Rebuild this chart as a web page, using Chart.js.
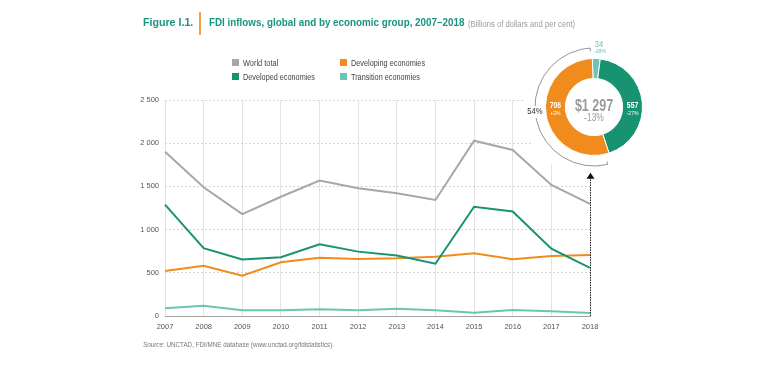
<!DOCTYPE html>
<html lang="en">
<head>
	<meta charset="utf-8">
	<title>FDI inflows</title>
	<style>
body {
	margin: 0;
	background: #fff;
	font-family: "Liberation Sans", Arial, sans-serif;
}
#page {
	position: relative;
	width: 768px;
	height: 367px;
	overflow: hidden;
}
#lineChart, #donutChart {
	position: absolute;
}
#lineChart { left: 0; top: 0; }
#donutChart { left: 519px; top: 32px; }
.fit {
	position: absolute;
	white-space: nowrap;
	line-height: 1;
	transform-origin: 0 0;
}
.fig, .title {
	top: 17px;
	font-size: 11.5px;
	font-weight: bold;
	color: #17957e;
}
.fig { left: 143px; }
.title { left: 209px; }
.sub {
	left: 468px;
	top: 20px;
	font-size: 8.5px;
	color: #9a9a9a;
}
.bar {
	position: absolute;
	left: 199px;
	top: 12px;
	width: 2px;
	height: 23px;
	background: #efa04a;
}
.legend-item {
	font-size: 9.5px;
	color: #444;
}
.legend-box {
	position: absolute;
	width: 7px;
	height: 7px;
}
.source {
	left: 143px;
	top: 341px;
	font-size: 8px;
	color: #777;
}
	</style>
</head>
<body>
<div id="page">
	<canvas id="lineChart" width="768" height="367"></canvas>
	<canvas id="donutChart" width="150" height="150"></canvas>
	<div class="fit fig" data-w="50">Figure I.1.</div>
	<div class="bar"></div>
	<div class="fit title" data-w="255">FDI inflows, global and by economic group, 2007–2018</div>
	<div class="fit sub" data-w="107">(Billions of dollars and per cent)</div>
	<div id="legend"></div>
	<div class="fit source" data-w="191"><i>Source</i>: UNCTAD, FDI/MNE database (www.unctad.org/fdistatistics).</div>
</div>

<script src="https://cdn.jsdelivr.net/npm/chart.js"></script>
<script>
const years = ['2007', '2008', '2009', '2010', '2011', '2012', '2013', '2014', '2015', '2016', '2017', '2018'];
const worldTotal = [1900, 1490, 1180, 1380, 1568, 1478, 1420, 1343, 2029, 1921, 1516, 1297];
const developed = [1290, 785, 655, 680, 830, 745, 700, 605, 1265, 1210, 780, 557];
const developing = [522, 582, 466, 622, 675, 660, 668, 687, 725, 656, 694, 706];
const transition = [89, 119, 66, 66, 78, 68, 85, 66, 38, 69, 54, 34];
const yTicks = [0, 500, 1000, 1500, 2000, 2500];

// 2018 growth rates shown in the donut
const changeTotal = '-13%';
const changeTransition = '-28%';
const changeDeveloped = '-27%';
const changeDeveloping = '+2%';

const colors = {
	world: '#a7a7a7',
	developed: '#179372',
	developing: '#f08c1e',
	transition: '#6cc4b4'
};

const donutCenter = { x: 594, y: 107 };
const fontFamily = '"Liberation Sans", Arial, sans-serif';

// legend (two columns): label, colour, x, y, text width
const legendItems = [
	['World total', colors.world, 232, 59, 35],
	['Developing economies', colors.developing, 340, 59, 74],
	['Developed economies', colors.developed, 232, 73, 72],
	['Transition economies', colors.transition, 340, 73, 69]
];
let legendHtml = '';
for (let item of legendItems) {
	legendHtml += `<div class="legend-box" style="left:${item[2]}px;top:${item[3]}px;background:${item[1]}"></div>`;
	legendHtml += `<div class="fit legend-item" data-w="${item[4]}" style="left:${item[2] + 11}px;top:${item[3] - 1}px">${item[0]}</div>`;
}
document.getElementById('legend').innerHTML = legendHtml;

// squeeze the html texts to the condensed look of the original
for (let el of document.querySelectorAll('.fit')) {
	const target = +el.dataset.w;
	el.style.transform = `scaleX(${target / el.scrollWidth})`;
}

function fmt(v) {
	return v >= 1000 ? Math.floor(v / 1000) + ' ' + String(v % 1000).padStart(3, '0') : String(v);
}

function narrowText(ctx, text, x, y, sx) {
	ctx.save();
	ctx.translate(x, y);
	ctx.scale(sx, 1);
	ctx.fillText(text, 0, 0);
	ctx.restore();
}

const decorPlugin = {
	id: 'decor',
	beforeDatasetsDraw(chart) {
		// white disc behind the donut, hides the grid
		const ctx = chart.ctx;
		ctx.save();
		ctx.fillStyle = '#fff';
		ctx.beginPath();
		ctx.arc(donutCenter.x, donutCenter.y, 71, 0, Math.PI * 2);
		ctx.fill();
		ctx.restore();
	},
	afterDatasetsDraw(chart) {
		// dotted arrow at 2018
		const ctx = chart.ctx;
		const x = chart.scales.x.getPixelForValue(years.length - 1);
		const y0 = chart.scales.y.getPixelForValue(0);
		const y1 = chart.scales.y.getPixelForValue(1600);
		ctx.save();
		ctx.strokeStyle = '#222';
		ctx.lineWidth = 1;
		ctx.setLineDash([1.5, 1]);
		ctx.beginPath();
		ctx.moveTo(x + 0.5, y0);
		ctx.lineTo(x + 0.5, y1);
		ctx.stroke();
		ctx.fillStyle = '#111';
		ctx.beginPath();
		ctx.moveTo(x - 3.5, y1 + 1);
		ctx.lineTo(x + 4.5, y1 + 1);
		ctx.lineTo(x + 0.5, y1 - 5);
		ctx.closePath();
		ctx.fill();
		ctx.restore();
	}
};

new Chart(document.getElementById('lineChart'), {
	type: 'line',
	data: {
		labels: years,
		datasets: [
			{ label: 'World total', data: worldTotal, borderColor: colors.world },
			{ label: 'Developed economies', data: developed, borderColor: colors.developed },
			{ label: 'Developing economies', data: developing, borderColor: colors.developing },
			{ label: 'Transition economies', data: transition, borderColor: colors.transition }
		]
	},
	options: {
		responsive: false,
		animation: false,
		layout: { padding: { left: 135, right: 178, top: 100, bottom: 31 } },
		elements: {
			point: { radius: 0 },
			line: { borderWidth: 2, tension: 0 }
		},
		plugins: {
			legend: { display: false },
			tooltip: { enabled: false }
		},
		scales: {
			x: {
				offset: false,
				afterFit(s) { s.height = 20; },
				grid: { color: '#e2e2e2', drawTicks: false },
				border: { color: '#a0a0a0', width: 1 },
				ticks: { color: '#555', padding: 6, maxRotation: 0, font: { family: fontFamily, size: 7.5 } }
			},
			y: {
				min: 0,
				max: 2500,
				afterFit(s) { s.width = 30; },
				afterBuildTicks(s) { s.ticks = yTicks.map(v => ({ value: v })); },
				grid: { color: '#d6d6d6', drawTicks: false },
				border: { display: false, dash: [2, 2] },
				ticks: { color: '#555', padding: 6, font: { family: fontFamily, size: 7.5 }, callback: v => fmt(v) }
			}
		}
	},
	plugins: [decorPlugin]
});

// donut for 2018
const last = years.length - 1;
const donutValues = [transition[last], developed[last], developing[last]];
const donutColors = [colors.transition, colors.developed, colors.developing];
const donutChanges = [changeTransition, changeDeveloped, changeDeveloping];

const donutLabels = {
	id: 'donutLabels',
	afterDatasetsDraw(chart) {
		const ctx = chart.ctx;
		const meta = chart.getDatasetMeta(0);
		const cx = (chart.chartArea.left + chart.chartArea.right) / 2;
		const cy = (chart.chartArea.top + chart.chartArea.bottom) / 2;
		ctx.save();
		ctx.textAlign = 'center';
		ctx.textBaseline = 'middle';

		// centre total
		ctx.fillStyle = '#9a9a9a';
		ctx.font = 'bold 16px ' + fontFamily;
		narrowText(ctx, '$' + fmt(worldTotal[last]), cx, cy, 0.78);
		ctx.font = '10px ' + fontFamily;
		narrowText(ctx, changeTotal, cx, cy + 11.5, 0.85);

		// transition slice: label outside, above
		const t = meta.data[0];
		ctx.fillStyle = colors.transition;
		ctx.font = '9px ' + fontFamily;
		narrowText(ctx, String(donutValues[0]), cx + 5, cy - t.outerRadius - 14, 0.85);
		ctx.font = '6px ' + fontFamily;
		narrowText(ctx, donutChanges[0], cx + 6, cy - t.outerRadius - 7, 0.85);

		// developed (right) and developing (left) inside the ring
		ctx.fillStyle = '#fff';
		for (let i = 1; i < donutValues.length; i++) {
			const arc = meta.data[i];
			const r = (arc.innerRadius + arc.outerRadius) / 2;
			const x = i === 1 ? cx + r : cx - r;
			ctx.font = 'bold 9.5px ' + fontFamily;
			narrowText(ctx, String(donutValues[i]), x, cy - 2, 0.72);
			ctx.font = '6px ' + fontFamily;
			narrowText(ctx, donutChanges[i], x, cy + 6, 0.85);
		}

		// bracket around developing share
		const dev = meta.data[2];
		const r = 59;
		const a0 = dev.startAngle + 0.08, a1 = dev.endAngle - 0.03;
		ctx.strokeStyle = '#777';
		ctx.lineWidth = 0.8;
		ctx.beginPath();
		ctx.arc(cx, cy, r, a0, a1);
		ctx.stroke();
		for (let a of [a0, a1]) {
			ctx.beginPath();
			ctx.moveTo(cx + Math.cos(a) * r, cy + Math.sin(a) * r);
			ctx.lineTo(cx + Math.cos(a) * (r - 3), cy + Math.sin(a) * (r - 3));
			ctx.stroke();
		}
		const share = Math.round(developing[last] / worldTotal[last] * 100) + '%';
		ctx.font = '9px ' + fontFamily;
		const lx = cx - r, ly = cy + 5;
		const w = ctx.measureText(share).width * 0.85;
		ctx.fillStyle = '#fff';
		ctx.fillRect(lx - w / 2 - 1, ly - 6, w + 2, 12);
		ctx.fillStyle = '#333';
		narrowText(ctx, share, lx, ly, 0.85);
		ctx.restore();
	}
};

new Chart(document.getElementById('donutChart'), {
	type: 'doughnut',
	data: {
		labels: ['Transition economies', 'Developed economies', 'Developing economies'],
		datasets: [{
			data: donutValues,
			backgroundColor: donutColors,
			borderColor: '#fff',
			borderWidth: 1
		}]
	},
	options: {
		responsive: false,
		animation: false,
		rotation: -2,
		cutout: '59%',
		layout: { padding: 26 },
		plugins: {
			legend: { display: false },
			tooltip: { enabled: false }
		}
	},
	plugins: [donutLabels]
});
</script>
</body>
</html>
